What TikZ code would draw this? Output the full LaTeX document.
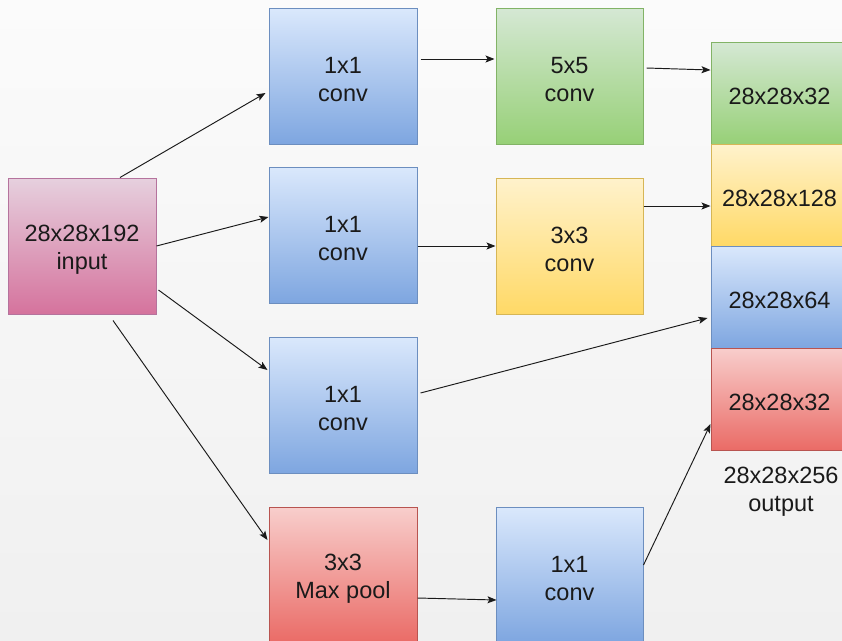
\documentclass[tikz,border=0pt]{standalone}
\usepackage{fontspec}
\setmainfont{Liberation Sans}
\usetikzlibrary{arrows.meta,calc}

\definecolor{bgtop}{HTML}{FBFBFB}
\definecolor{bgbot}{HTML}{F0F0F0}
\definecolor{blueT}{HTML}{DAE8FC}\definecolor{blueB}{HTML}{7EA6E0}\definecolor{blueS}{HTML}{6C8EBF}
\definecolor{greenT}{HTML}{D5E8D4}\definecolor{greenB}{HTML}{97D077}\definecolor{greenS}{HTML}{82B366}
\definecolor{yelT}{HTML}{FFF2CC}\definecolor{yelB}{HTML}{FFD966}\definecolor{yelS}{HTML}{D6B656}
\definecolor{redT}{HTML}{F8CECC}\definecolor{redB}{HTML}{EA6B66}\definecolor{redS}{HTML}{B85450}
\definecolor{pinkT}{HTML}{E6D0DE}\definecolor{pinkB}{HTML}{D5739D}\definecolor{pinkS}{HTML}{B5739D}
\definecolor{ink}{HTML}{1A1A1A}

\def\boxliftht{51pt}
\tikzset{
  % height of a strut put ahead of the text, which sets it slightly below centre
  lift/.code={\def\boxliftht{#1}},
  box/.style={draw, line width=1pt, rectangle, inner sep=0pt, align=center,
    minimum width=148pt, minimum height=136pt, text=ink,
    font=\fontsize{23.5}{28}\selectfont, lift=51pt,
    execute at begin node={\rule{0pt}{\boxliftht}}},
  bluebox/.style={box, draw=blueS, top color=blueT, bottom color=blueB},
  greenbox/.style={box, draw=greenS, top color=greenT, bottom color=greenB},
  yelbox/.style={box, draw=yelS, top color=yelT, bottom color=yelB},
  redbox/.style={box, draw=redS, top color=redT, bottom color=redB},
  pinkbox/.style={box, draw=pinkS, top color=pinkT, bottom color=pinkB},
  slab/.style={minimum width=137pt, minimum height=102pt, lift=22.5pt},
  arr/.style={draw=ink, line width=0.95pt, -{Stealth[length=9pt,width=7pt,inset=2pt]}},
  caption/.style={align=center, text=ink, font=\fontsize{23.5}{28}\selectfont}
}

\begin{document}
\begin{tikzpicture}[x=1pt,y=-1pt]
  % page frame and background
  \useasboundingbox (0,0) rectangle (842,640);
  \clip (0,0) rectangle (842,640);
  \shade[top color=bgtop, bottom color=bgbot] (0,0) rectangle (842,640);

  % input
  \node[pinkbox] (in) at (82,246) {28x28x192\\input};

  % first column
  \node[bluebox] (c1) at (343,76) {1x1\\conv};
  \node[bluebox] (c2) at (343,235) {1x1\\conv};
  \node[bluebox] (c3) at (343,405) {1x1\\conv};
  \node[redbox]  (mp) at (343,575) {3x3\\Max pool};

  % second column
  \node[greenbox, minimum width=147pt] (k5) at (569.5,76) {5x5\\conv};
  \node[yelbox,   minimum width=147pt] (k3) at (569.5,246) {3x3\\conv};
  \node[bluebox,  minimum width=147pt] (c4) at (569.5,575) {1x1\\conv};

  % concatenated output
  \node[greenbox, slab] (o1) at (779.5,93)  {28x28x32};
  \node[yelbox,   slab] (o2) at (779.5,195) {28x28x128};
  \node[bluebox,  slab] (o3) at (779.5,297) {28x28x64};
  \node[redbox,   slab] (o4) at (779.5,399) {28x28x32};
  \node[caption] (out) at (781,492) {28x28x256\\output};

  % input to branches
  \draw[arr] ($(in.north)+(38,0)$) -- ($(c1.west)+(-3,17)$);
  \draw[arr] (in.east) -- ($(c2.west)+(0,-18)$);
  \draw[arr] ($(in.east)+(2,44)$) -- ($(c3.west)+(-1,-35)$);
  \draw[arr] ($(in.south)+(31,6)$) -- ($(mp.west)+(-1,-35)$);

  % inside the branches
  \draw[arr] ($(c1.east)+(3,-17)$) -- ($(k5.west)+(-1,-17)$);
  \draw[arr] ($(c2.east)+(0,11)$) -- (k3.west);
  \draw[arr] ($(mp.east)+(0,23)$) -- ($(c4.west)+(1,25)$);

  % branches to output
  \draw[arr] ($(k5.east)+(3,-8)$) -- ($(o1.west)+(0,-23)$);
  \draw[arr] ($(k3.east)+(0,-40)$) -- ($(o2.west)+(0,11)$);
  \draw[arr] ($(c3.east)+(3,-12)$) -- ($(o3.west)+(-3,21)$);
  \draw[arr] ($(c4.east)+(0,-10)$) -- ($(o4.west)+(0,25)$);
\end{tikzpicture}
\end{document}
